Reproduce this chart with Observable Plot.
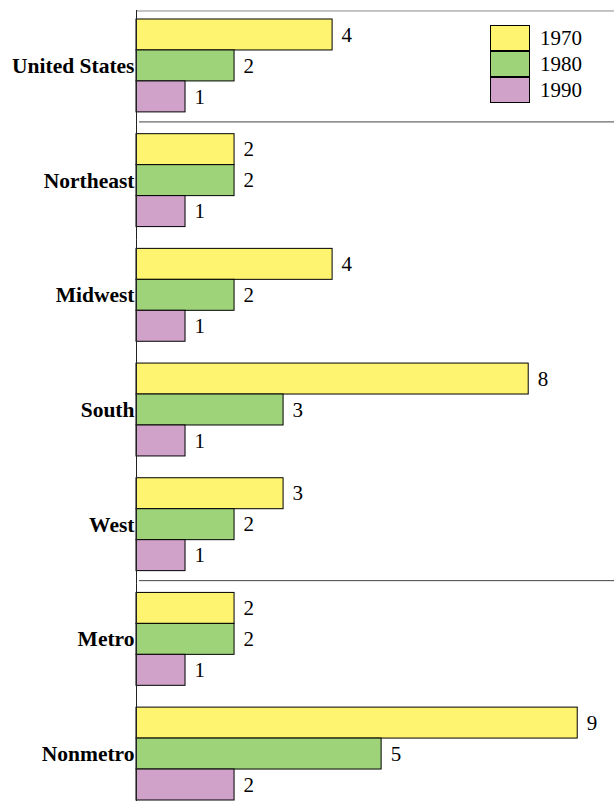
<!DOCTYPE html>
<html>
<head>
<meta charset="utf-8">
<script src="https://cdn.jsdelivr.net/npm/d3@7"></script>
<script src="https://cdn.jsdelivr.net/npm/@observablehq/plot@0.6"></script>
<style>
  html, body { margin: 0; padding: 0; background: white; }
  #wrap { position: relative; width: 614px; height: 801px; font-family: "Liberation Serif", "Times New Roman", serif; }
  #wrap svg, #wrap svg text { font-family: "Liberation Serif", "Times New Roman", serif !important; }
  #legend { position: absolute; left: 490px; top: 25px; }
  .row { display: flex; align-items: center; height: 26px; }
  .sw { width: 40px; height: 26px; box-sizing: border-box; border: 1px solid #000; margin-top: -1px; }
  .lab { margin-left: 10px; font-size: 21px; line-height: 26px; color: #000; font-family: "Liberation Serif", serif; }
</style>
</head>
<body>
<div id="wrap"><div id="legend"></div></div>
<script>
const categories = ["United States", "Northeast", "Midwest", "South", "West", "Metro", "Nonmetro"];
const series = ["1970", "1980", "1990"];
const v1970 = [4, 2, 4, 8, 3, 2, 9];
const v1980 = [2, 2, 2, 3, 2, 2, 5];
const v1990 = [1, 1, 1, 1, 1, 1, 2];
const colors = ["#fff46f", "#9fd37a", "#d0a2c9"];
const separatedAfter = ["United States", "West"];

const valuesBySeries = [v1970, v1980, v1990];
const data = categories.flatMap((cat, i) =>
  series.map((year, j) => ({cat, year, value: valuesBySeries[j][i]}))
);

const serif = "Liberation Serif";

const chart = Plot.plot({
  width: 614,
  height: 801,
  marginLeft: 136,
  marginRight: 0,
  marginTop: 19,
  marginBottom: 1,
  x: {domain: [0, 9.75], axis: null},
  y: {domain: series, padding: 0, round: false, axis: null},
  fy: {domain: categories, paddingInner: 0.19, paddingOuter: 0, round: false},
  color: {domain: series, range: colors},
  style: {fontFamily: '"Liberation Serif", serif', background: "white", overflow: "visible"},
  marks: [
    Plot.ruleY(["United States"], {fy: d => d, y: () => "1970", dy: -24, stroke: "#888", strokeWidth: 1}),
    Plot.ruleY(separatedAfter, {fy: d => d, y: () => "1990", dy: 25, stroke: "#444", strokeWidth: 1, insetLeft: 3}),
    Plot.barX(data, {fy: "cat", y: "year", x: "value", fill: "year", stroke: "black", strokeWidth: 1}),
    Plot.ruleX([0], {insetTop: -9, insetBottom: -13, stroke: "#222", strokeWidth: 1}),
    Plot.text(data, {fy: "cat", y: "year", x: "value", text: d => String(d.value), dx: 9, textAnchor: "start", fontSize: 21, fontFamily: serif, fill: "black"}),
    Plot.axisFy({anchor: "left", tickSize: 0, tickPadding: 2, fontSize: 21.5, fontWeight: "bold", fontFamily: serif, label: null, fill: "black"})
  ]
});
document.getElementById("wrap").prepend(chart);

const legend = document.getElementById("legend");
series.forEach((s, i) => {
  const row = document.createElement("div");
  row.className = "row";
  const sw = document.createElement("div");
  sw.className = "sw";
  sw.style.background = colors[i];
  const lab = document.createElement("span");
  lab.className = "lab";
  lab.textContent = s;
  row.appendChild(sw);
  row.appendChild(lab);
  legend.appendChild(row);
});
</script>
</body>
</html>
